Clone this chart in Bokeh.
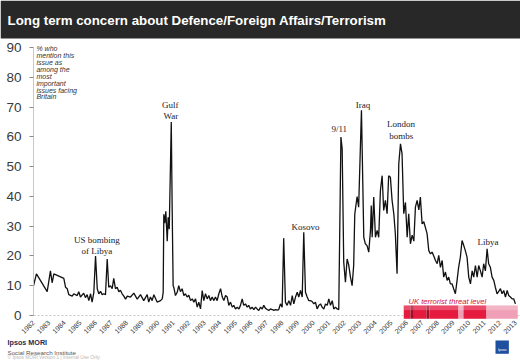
import math
from bokeh.plotting import figure
from bokeh.models import Range1d, FixedTicker, Label, ColumnDataSource, BoxAnnotation
from bokeh.embed import file_html
from bokeh.resources import INLINE
from bokeh.core.properties import value

TITLE = "Long term concern about Defence/Foreign Affairs/Terrorism"

# ---- data (decimal-year position, % naming the issue) ----
years = [
    1982.00, 1982.19, 1982.88, 1983.09, 1983.20, 1983.31, 1983.74, 1983.95, 1984.06, 1984.17,
    1984.27, 1984.49, 1984.59, 1984.81, 1984.91, 1985.02, 1985.23, 1985.34, 1985.45, 1985.56,
    1985.67, 1985.77, 1985.88, 1985.99, 1986.10, 1986.20, 1986.31, 1986.42, 1986.52, 1986.63,
    1986.74, 1986.84, 1986.95, 1987.06, 1987.16, 1987.27, 1987.38, 1987.49, 1987.59, 1987.70,
    1987.81, 1987.92, 1988.03, 1988.24, 1988.45, 1988.67, 1988.88, 1989.09, 1989.31, 1989.41,
    1989.52, 1989.63, 1989.74, 1989.95, 1990.17, 1990.28, 1990.34,
    1990.38, 1990.44, 1990.51, 1990.60, 1990.66, 1990.73, 1990.86, 1990.92, 1990.98,
    1991.02, 1991.13, 1991.24, 1991.34, 1991.45, 1991.56, 1991.67, 1991.77, 1991.88, 1991.99,
    1992.10, 1992.21, 1992.31, 1992.42, 1992.53, 1992.63, 1992.74, 1992.85, 1992.95, 1993.06,
    1993.17, 1993.28, 1993.38, 1993.49, 1993.60, 1993.70, 1993.81, 1993.92, 1994.03, 1994.14,
    1994.24, 1994.35, 1994.46, 1994.56, 1994.67, 1994.78, 1994.88, 1994.99, 1995.10, 1995.21,
    1995.31, 1995.42, 1995.52, 1995.63, 1995.74, 1995.84, 1995.95, 1996.06, 1996.17, 1996.28,
    1996.38, 1996.49, 1996.60, 1996.71, 1996.81, 1996.92, 1997.03, 1997.13, 1997.24, 1997.35,
    1997.45, 1997.56, 1997.67, 1997.77, 1997.88, 1997.99, 1998.09, 1998.20, 1998.31, 1998.42,
    1998.53, 1998.64, 1998.74, 1998.85, 1998.96, 1999.06, 1999.17, 1999.28, 1999.38, 1999.49,
    1999.60, 1999.70, 1999.81, 1999.92, 2000.03, 2000.13, 2000.24, 2000.35, 2000.46, 2000.56,
    2000.67, 2000.78, 2000.89, 2000.99, 2001.10, 2001.21, 2001.31, 2001.42, 2001.53, 2001.63,
    2001.77, 2001.85, 2001.95, 2002.06, 2002.17, 2002.27, 2002.38, 2002.49, 2002.59, 2002.66,
    2002.81, 2002.91, 2003.09, 2003.24,
    2003.34, 2003.45, 2003.56, 2003.67, 2003.72, 2003.78, 2003.88, 2003.99, 2004.10, 2004.20,
    2004.31, 2004.42, 2004.52, 2004.63, 2004.74, 2004.84, 2004.95, 2005.06, 2005.17, 2005.27,
    2005.38, 2005.49, 2005.60, 2005.70, 2005.81, 2005.92, 2006.03, 2006.13, 2006.24, 2006.35,
    2006.46, 2006.56, 2006.67, 2006.78, 2006.88, 2006.99, 2007.10, 2007.31, 2007.42, 2007.53,
    2007.63, 2007.74, 2007.85, 2007.96, 2008.06, 2008.17, 2008.28, 2008.38, 2008.49, 2008.60,
    2008.70, 2008.81, 2008.92, 2009.02, 2009.13, 2009.24, 2009.34, 2009.45, 2009.56, 2009.67,
    2009.77, 2009.88, 2009.99, 2010.10, 2010.21, 2010.31, 2010.42, 2010.53, 2010.63, 2010.74,
    2010.85, 2010.95, 2011.06, 2011.17, 2011.27, 2011.38, 2011.49, 2011.60, 2011.70, 2011.81,
    2011.92, 2012.03, 2012.13, 2012.24, 2012.35, 2012.46, 2012.56, 2012.67, 2012.78, 2012.88, 2012.99,
]

concern = [
    10, 14, 8, 15, 11, 14, 13, 12.5, 9.5, 9,
    7, 6.5, 7.3, 6.7, 8, 6.2, 7.5, 6, 7, 5,
    7.3, 4.5, 7.8, 20, 9, 7.3, 8.1, 7, 7.3, 7,
    19, 9.5, 10, 9, 12.5, 9, 9.5, 8, 8.5, 7.3,
    6.5, 5.5, 6.5, 6.2, 7.5, 5.5, 7, 5, 7, 4.5,
    6.2, 5, 7, 4.5, 5, 5.6, 7.8,
    34, 31, 35, 25, 33, 29, 65, 35, 10,
    9.5, 6.7, 7.8, 10, 8, 9, 6.7, 7.3, 6.2, 6.8,
    5, 5.6, 4.5, 5.6, 2.8, 4.5, 2.2, 8.4, 5, 7.3,
    5.6, 6.7, 5, 6.2, 5, 6.2, 5, 7.3, 9, 6.2,
    5, 6.7, 6.2, 3.4, 4.5, 2.8, 3.4, 2.2, 2.8, 2.2,
    3.4, 5.6, 3.4, 3.9, 2.8, 3.4, 2.2, 2.8, 2, 2.8,
    2.2, 1.7, 2.8, 2.2, 3.4, 2.4, 2, 1.7, 2.2, 2,
    1.7, 2, 1.8, 2, 3.9, 2.8, 26, 4.5, 3.4, 5,
    3.4, 6.7, 3.9, 6.2, 7.8, 6.2, 8.4, 6.2, 28, 7.8,
    6.2, 5, 5, 4.7, 3.9, 4.5, 2.2, 3.4, 3.9, 2.8,
    2.2, 3.9, 3.4, 5.6, 3.4, 5, 2.2, 2.8, 2.2, 2,
    60, 56, 18, 11.2, 19, 17, 13, 10, 16.8, 34,
    40, 36.4, 69, 26.3,
    24.1, 23.5, 21.3, 28.6, 37, 26.3, 39.8, 26.3, 28.6, 26.3,
    42, 47, 35.3, 38.7, 34.2, 47, 46.5, 38.7, 34.2, 27.5,
    14, 51, 57.7, 54.4, 34.2, 38, 26.3, 34.2, 24.1, 27,
    25, 36.4, 38.7, 35.5, 39.8, 30.8, 31.5, 27.5, 21.8, 20.7,
    21.3, 20, 18.5, 17.4, 20.2, 16.2, 18.5, 12.9, 14.6, 11.8,
    12.9, 10.6, 10.6, 9, 7.3, 11.8, 16.2, 19.6, 25.2, 23.5,
    21.8, 19.6, 12.9, 10.6, 15, 12.9, 16.8, 12.9, 16.8, 15,
    12.9, 17.4, 15, 22.4, 17.4, 16.2, 12.9, 11.8, 9.5, 7.3,
    8.1, 9, 7.3, 8.4, 6.2, 8.4, 6.7, 6.2, 5.6, 5.6, 3.9,
]
assert len(years) == len(concern)

y_ticks = [0, 10, 20, 30, 40, 50, 60, 70, 80, 90]
tick_years = list(range(1982, 2014))
year_labels = [str(y) for y in tick_years]

# event annotations
event_text = ["US bombing", "of Libya", "Gulf", "War", "Kosovo", "9/11", "Iraq", "London", "bombs", "Libya"]
event_x = [1986.07, 1986.07, 1990.80, 1990.84, 1999.49, 2001.66, 2003.19, 2005.63, 2005.65, 2011.22]
event_y = [25.5, 21.8, 70.6, 66.9, 29.7, 62.7, 70.6, 64.2, 60.5, 24.6]

# UK terrorist threat level periods
threat_start = [2005.81, 2006.24, 2006.46, 2007.27, 2007.47, 2009.33, 2009.65, 2011.13]
threat_end = [2006.24, 2006.46, 2007.27, 2007.47, 2009.33, 2009.65, 2011.13, 2013.14]
threat_level = ["Severe", "Critical", "Severe", "Critical", "Severe", "Substantial", "Severe", "Substantial"]
level_colors = {"Critical": "#a50d29", "Severe": "#e41a3f", "Substantial": "#efa0b6"}

NOTE = "% who\nmention this\nissue as\namong the\nmost\nimportant\nissues facing\nBritain"

# ---- figure: frame covers the whole canvas, axes pinned inside it ----
p = figure(width=520, height=360, x_range=Range1d(1979.878, 2013.318), y_range=Range1d(-15.13, 105.88),
           toolbar_location=None, output_backend="svg", min_border=0,
           outline_line_color=None, background_fill_color="white", border_fill_color="white")
p.title.visible = False
p.grid.visible = False

p.yaxis.fixed_location = 1982.0
p.yaxis.ticker = FixedTicker(ticks=y_ticks)
p.yaxis.bounds = (0, 90)
p.yaxis.axis_line_color = "#c8c8c8"
p.yaxis.major_tick_line_color = "#8a8a8a"
p.yaxis.major_tick_out = 4
p.yaxis.major_tick_in = 0
p.yaxis.minor_tick_line_color = None
p.yaxis.major_label_standoff = 8
p.yaxis.major_label_text_font = "Liberation Sans"
p.yaxis.major_label_text_font_size = "13.5px"
p.yaxis.major_label_text_color = "#3a3a3a"

p.xaxis.fixed_location = 0
p.xaxis.level = "underlay"
p.xaxis.ticker = FixedTicker(ticks=tick_years)
p.xaxis.bounds = (1982.0, 2013.25)
p.xaxis.major_label_overrides = {y: lab for y, lab in zip(tick_years, year_labels)}
p.xaxis.major_label_orientation = math.pi / 4
p.xaxis.axis_line_color = "#c8c8c8"
p.xaxis.axis_line_dash = "2 2"
p.xaxis.major_tick_line_color = None
p.xaxis.minor_tick_line_color = None
p.xaxis.major_tick_out = 0
p.xaxis.major_tick_in = 0
p.xaxis.major_label_standoff = 6
p.xaxis.major_label_text_font = "Liberation Sans"
p.xaxis.major_label_text_font_size = "7px"
p.xaxis.major_label_text_color = "#333333"

# title bar
p.add_layout(BoxAnnotation(bottom=93.11, fill_color="#282828", fill_alpha=1.0, line_color=None))
p.add_layout(Label(x=1980.33, y=99.2, text=TITLE, text_color="white", text_font="Liberation Sans",
                   text_font_style="bold", text_font_size="13.3px", text_baseline="middle"))

# threat level band
tsrc = ColumnDataSource(dict(left=threat_start, right=threat_end, level=threat_level,
                             color=[level_colors[l] for l in threat_level]))
p.quad(left="left", right="right", bottom=-1.1, top=3.36, fill_color="color", line_color=None, source=tsrc)
p.quad(left="left", right="right", bottom=1.8, top=3.36, fill_color="white", fill_alpha=0.22,
       line_color=None, source=tsrc)
p.add_layout(Label(x=2006.12, y=4.7, text="UK terrorist threat level", text_color="#d3103a",
                   text_font="Liberation Sans", text_font_style="italic", text_font_size="7.6px",
                   text_baseline="middle"))

p.line(years, concern, line_color="#111111", line_width=1.3)

p.text(x=event_x, y=event_y, text=event_text, text_font=value("Liberation Serif"),
       text_font_size="9px", text_color="#1a1a2a", text_align="center", text_baseline="middle")

p.add_layout(Label(x=1982.19, y=90.76, text=NOTE, text_color="#333333", text_font="Liberation Sans",
                   text_font_style="italic", text_font_size="7px", text_baseline="top",
                   text_line_height=0.98))

# footer
p.add_layout(Label(x=1980.33, y=-9.24, text="Ipsos MORI", text_color="#1e2b4f", text_font="Liberation Sans",
                   text_font_style="bold", text_font_size="7.2px", text_baseline="middle"))
p.add_layout(Label(x=1980.33, y=-12.34, text="Social Research Institute", text_color="#555555",
                   text_font="Liberation Sans", text_font_size="6.2px", text_baseline="middle"))
p.add_layout(Label(x=1980.33, y=-14.12, text="© Ipsos MORI   Version 1 | Internal Use Only",
                   text_color="#b8b8b8", text_font="Liberation Sans", text_font_size="4.8px",
                   text_baseline="middle"))
p.add_layout(BoxAnnotation(left=2011.71, right=2012.57, top=-8.40, bottom=-12.87,
                           fill_color="#1f4f9f", fill_alpha=1.0, line_color=None))
p.add_layout(Label(x=2012.14, y=-11.6, text="Ipsos", text_color="white", text_font="Liberation Sans",
                   text_font_size="3.6px", text_align="center", text_baseline="middle"))

open("out.html", "w").write(file_html(p, INLINE))
